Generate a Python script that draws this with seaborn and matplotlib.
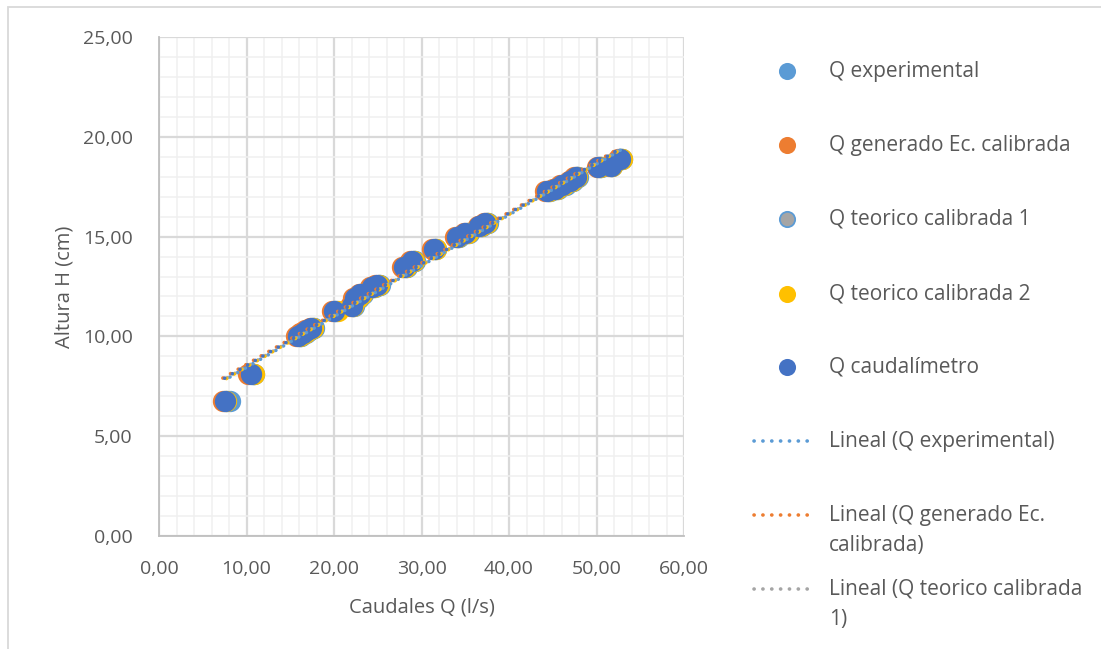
import numpy as np
import pandas as pd
import matplotlib
matplotlib.use("Agg")
import matplotlib.pyplot as plt
import seaborn as sns
from matplotlib.lines import Line2D
from matplotlib.patches import Rectangle
from matplotlib.ticker import MultipleLocator, FuncFormatter

# ---------------- data ----------------
H = [6.75, 8.10, 10.00, 10.15, 10.30, 10.40, 11.27, 11.50, 11.90, 12.10,
     12.50, 12.60, 13.50, 13.80, 14.40, 15.00, 15.20, 15.55, 15.70, 17.30,
     17.40, 17.60, 17.80, 18.00, 18.50, 18.55, 18.90]
Q_caudalimetro = [7.5, 10.5, 15.9, 16.4, 16.9, 17.4, 20.0, 22.0, 22.4, 23.0,
                  24.3, 24.9, 28.0, 28.9, 31.4, 34.0, 35.0, 36.6, 37.3, 44.3,
                  45.2, 46.0, 47.0, 47.6, 50.2, 51.6, 52.7]
Q_experimental = [8.1, 10.9, 16.2, 16.8, 17.2, 17.7, 20.2, 22.3, 22.8, 23.3,
                  24.7, 25.2, 28.3, 29.2, 31.6, 34.3, 35.4, 36.9, 37.6, 44.7,
                  45.6, 46.5, 47.3, 47.9, 50.5, 51.8, 52.9]
Q_generado = [7.3, 10.2, 15.6, 16.1, 16.7, 17.2, 19.8, 21.8, 22.2, 22.8,
              24.1, 24.7, 27.8, 28.7, 31.2, 33.8, 34.8, 36.4, 37.1, 44.1,
              45.0, 45.8, 46.8, 47.4, 50.0, 51.4, 52.5]
Q_teorico1 = [7.8, 10.7, 16.1, 16.6, 17.1, 17.6, 20.1, 22.2, 22.6, 23.2,
              24.5, 25.1, 28.2, 29.1, 31.5, 34.2, 35.2, 36.8, 37.5, 44.5,
              45.4, 46.2, 47.2, 47.8, 50.4, 51.7, 52.8]
Q_teorico2 = [7.7, 10.8, 16.1, 16.7, 17.1, 17.6, 20.5, 22.2, 22.7, 23.2,
              24.6, 25.1, 28.2, 29.1, 31.6, 34.2, 35.3, 36.8, 37.5, 44.6,
              45.5, 46.3, 47.2, 47.8, 50.4, 51.8, 52.9]

series_names = ["Q experimental", "Q generado Ec. calibrada",
                "Q teorico calibrada 1", "Q teorico calibrada 2",
                "Q caudalímetro"]
series_Q = [Q_experimental, Q_generado, Q_teorico1, Q_teorico2, Q_caudalimetro]
fill_colors = ["#5B9BD5", "#ED7D31", "#A5A5A5", "#FFC000", "#4472C4"]
edge_colors = ["#5B9BD5", "#ED7D31", "#5B9BD5", "#FFC000", "#4472C4"]

rows = []
for name, qs in zip(series_names, series_Q):
    for q, h in zip(qs, H):
        rows.append({"serie": name, "Q": q, "H": h})
df = pd.DataFrame(rows)

# ---------------- figure ----------------
sns.set_style("white")
plt.rcParams["font.family"] = ["Open Sans", "DejaVu Sans"]
W, Hpx = 1101, 649
fig = plt.figure(figsize=(W / 100, Hpx / 100), dpi=100)
ax = fig.add_axes([159 / W, 1 - 536 / Hpx, (684 - 159) / W, (536 - 37) / Hpx])

txt = "#595959"

# scatter series
order = [1, 0, 2, 3, 4]  # draw order (caudalímetro on top)
for i in order:
    d = df[df["serie"] == series_names[i]]
    sns.scatterplot(data=d, x="Q", y="H", ax=ax, s=200, color=fill_colors[i],
                    edgecolor=edge_colors[i], linewidth=1.2, zorder=3 + i,
                    legend=False)

# trendlines (linear)
for i in [0, 1, 2, 3, 4]:
    d = df[df["serie"] == series_names[i]]
    sns.regplot(data=d, x="Q", y="H", ax=ax, scatter=False, ci=None,
                truncate=True,
                line_kws=dict(color=fill_colors[i], lw=2.6,
                              linestyle=(0, (0.05, 2.4)),
                              dash_capstyle="round", zorder=10 + i))

ax.set_xlim(0, 60)
ax.set_ylim(0, 25)
ax.xaxis.set_major_locator(MultipleLocator(10))
ax.xaxis.set_minor_locator(MultipleLocator(2))
ax.yaxis.set_major_locator(MultipleLocator(5))
ax.yaxis.set_minor_locator(MultipleLocator(1))
fmt = FuncFormatter(lambda v, p: f"{v:.2f}".replace(".", ","))
ax.xaxis.set_major_formatter(fmt)
ax.yaxis.set_major_formatter(fmt)
ax.grid(which="major", color="#D9D9D9", lw=1.6, zorder=0)
ax.grid(which="minor", color="#F0F0F0", lw=1.1, zorder=0)
ax.set_axisbelow(True)
for s in ["top", "right"]:
    ax.spines[s].set_visible(False)
for s in ["left", "bottom"]:
    ax.spines[s].set_color("#BFBFBF")
    ax.spines[s].set_linewidth(1.3)
ax.tick_params(which="major", length=5, width=1.2, color="#BFBFBF",
               labelsize=14, labelcolor=txt)
ax.tick_params(axis="y", pad=14)
ax.tick_params(axis="x", pad=12)
ax.tick_params(which="minor", length=0)
ax.set_xlabel("Caudales Q (l/s)", fontsize=14.5, color=txt, labelpad=14)
ax.set_ylabel("Altura H (cm)", fontsize=14.5, color=txt, labelpad=6)

# ---------------- legend (manual placement) ----------------
def fx(px):
    return px / W

def fy(py):
    return 1 - py / Hpx

leg_fs = 15
leg_y = [71, 145, 219, 294, 367]
for i, y in enumerate(leg_y):
    fig.add_artist(Line2D([fx(787)], [fy(y)], transform=fig.transFigure,
                          marker="o", markersize=11,
                          markerfacecolor=fill_colors[i],
                          markeredgecolor=edge_colors[i], markeredgewidth=1.3,
                          linestyle="none"))
    fig.text(fx(829), fy(y), series_names[i], fontsize=leg_fs, color=txt,
             va="center", ha="left")

trend_labels = [["Lineal (Q experimental)"],
                ["Lineal (Q generado Ec.", "calibrada)"],
                ["Lineal (Q teorico calibrada", "1)"]]
trend_y = [441, 515, 589]
for i, (lines, y) in enumerate(zip(trend_labels, trend_y)):
    fig.add_artist(Line2D([fx(754), fx(815)], [fy(y), fy(y)],
                          transform=fig.transFigure, color=fill_colors[i],
                          lw=2.6, linestyle=(0, (0.05, 2.4)),
                          dash_capstyle="round"))
    for k, line in enumerate(lines):
        fig.text(fx(829), fy(y + 30 * k), line, fontsize=leg_fs, color=txt,
                 va="center", ha="left")

# chart border
fig.add_artist(Rectangle((fx(8), fy(700)), fx(1200), fy(7) - fy(700),
                         transform=fig.transFigure, fill=False,
                         edgecolor="#D9D9D9", lw=1.3))

fig.savefig("out.png", dpi=100)
